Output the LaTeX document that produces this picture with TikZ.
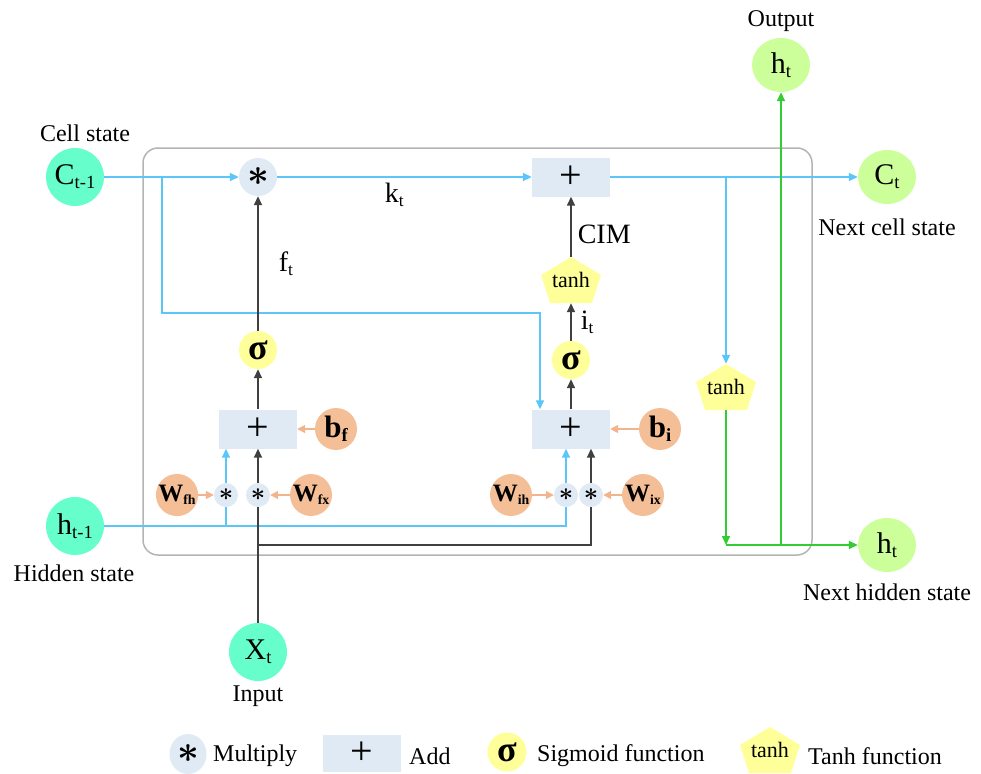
\documentclass[tikz,border=0pt]{standalone}
\usepackage{fontspec}
\setmainfont{Liberation Serif}
\usetikzlibrary{positioning,arrows.meta,shapes.geometric}
\definecolor{mint}{HTML}{66FFCC}
\definecolor{lgreen}{HTML}{CCFF99}
\definecolor{opbg}{HTML}{DFEAF4}
\definecolor{sigyel}{HTML}{FFFF99}
\definecolor{peach}{HTML}{F4BF96}
\definecolor{peachline}{HTML}{F2B48C}
\definecolor{cellblue}{HTML}{5CC6F8}
\definecolor{dgray}{HTML}{404040}
\definecolor{ggreen}{HTML}{33CC33}
\definecolor{boxgray}{HTML}{B4B4B4}
\newcommand{\fsz}[1]{\fontsize{#1}{#1}\selectfont}
\newcommand{\tsub}[2][0.62]{\raisebox{-0.3ex}{\scalebox{#1}{#2}}}
\newcommand{\mulsym}[1]{\scalebox{#1}{\boldmath$\ast$}}

\begin{document}
\begin{tikzpicture}[
  x=1pt, y=-1pt,
  state/.style={circle,fill=mint,minimum size=58pt,inner sep=0pt,font=\fsz{30}},
  outstate/.style={ellipse,fill=lgreen,minimum width=58pt,minimum height=54pt,inner sep=0pt,font=\fsz{30}},
  mult/.style={circle,fill=opbg,minimum size=38pt,inner sep=0pt},
  smult/.style={circle,fill=opbg,minimum size=24pt,inner sep=0pt},
  addbox/.style={rectangle,fill=opbg,minimum width=78pt,minimum height=39pt,inner sep=0pt,font=\fsz{40}},
  sig/.style={circle,fill=sigyel,minimum size=38pt,inner sep=0pt,font=\fsz{36}\bfseries},
  weight/.style={circle,fill=peach,minimum size=42pt,inner sep=0pt,font=\fsz{25}\bfseries},
  bias/.style={weight,font=\fsz{31}\bfseries},
  tanhgate/.style={rectangle,minimum width=60pt,minimum height=46pt,inner sep=0pt,font=\fsz{22},
    path picture={\fill[sigyel] ([yshift=23pt]path picture bounding box.center)
      -- ([xshift=30pt,yshift=5pt]path picture bounding box.center)
      -- ([xshift=21pt,yshift=-23pt]path picture bounding box.center)
      -- ([xshift=-21pt,yshift=-23pt]path picture bounding box.center)
      -- ([xshift=-30pt,yshift=5pt]path picture bounding box.center) -- cycle;}},
  lab/.style={font=\fsz{24},inner sep=0pt},
  sublab/.style={font=\fsz{28},inner sep=0pt},
  cline/.style={draw=cellblue,line width=1.6pt},
  carrow/.style={cline,-{Triangle[length=9pt,width=8pt]}},
  dline/.style={draw=dgray,line width=1.6pt},
  darrow/.style={dline,-{Triangle[length=9pt,width=8pt]}},
  warrow/.style={draw=peachline,line width=1.6pt,-{Triangle[length=8pt,width=8pt]}},
  garrow/.style={draw=ggreen,line width=1.6pt,-{Triangle[length=9pt,width=8pt]}}
  ]
  \useasboundingbox (0,0) rectangle (981,773);
  % cell frame
  \draw[draw=boxgray,line width=1.5pt,rounded corners=15pt] (143,148) rectangle (812,555);

  % inputs and outputs
  \node[state] (Cprev) at (75,177) {C\tsub{t-1}};
  \node[state] (hprev) at (75,526) {h\tsub{t-1}};
  \node[state] (xin) at (258,652) {X\tsub{t}};
  \node[outstate] (hout) at (781,65) {h\tsub{t}};
  \node[outstate] (Cnext) at (887,177) {C\tsub{t}};
  \node[outstate] (hnext) at (887,545) {h\tsub{t}};
  \node[lab] (Cprevlab) at (85,133) {Cell state};
  \node[lab] (hprevlab) at (74,573) {Hidden state};
  \node[lab] (xinlab) at (258,696) {Input};
  \node[lab] (houtlab) at (781,21) {Output};
  \node[lab] (Cnextlab) at (887,227) {Next cell state};
  \node[lab] (hnextlab) at (887,592) {Next hidden state};

  % forget gate
  \node[mult] (mulc) at (258,177) {\mulsym{3.8}};
  \node[sig] (sigf) at (258,350) {σ};
  \node[addbox] (addf) at (258,429) {+};
  \node[bias] (bf) at (336,429) {b\tsub[0.6]{f}};
  \node[weight] (Wfh) at (177,495) {W\tsub[0.55]{fh}};
  \node[smult] (mfh) at (226,495) {\mulsym{2.5}};
  \node[smult] (mfx) at (258,495) {\mulsym{2.5}};
  \node[weight] (Wfx) at (311,495) {W\tsub[0.55]{fx}};

  % input gate
  \node[addbox] (addc) at (571,177) {+};
  \node[tanhgate] (tanhi) at (571,280) {tanh};
  \node[sig] (sigi) at (571,360) {σ};
  \node[addbox] (addi) at (571,429) {+};
  \node[bias] (bi) at (660,429) {b\tsub[0.6]{i}};
  \node[weight] (Wih) at (511,495) {W\tsub[0.55]{ih}};
  \node[smult] (mih) at (566,495) {\mulsym{2.5}};
  \node[smult] (mix) at (591,495) {\mulsym{2.5}};
  \node[weight] (Wix) at (643,495) {W\tsub[0.55]{ix}};

  % output
  \node[tanhgate] (tanho) at (726,387) {tanh};

  \coordinate (splitc) at (162,177);
  \coordinate (turnc) at (540,313);
  \coordinate (splito) at (726,177);
  \coordinate (xjoin) at (258,545);
  \coordinate (hjoin) at (726,545);

  \draw[carrow] (Cprev) -- (mulc);
  \draw[carrow] (mulc) -- node[sublab,below=5pt,pos=0.46] (klab) {k\tsub{t}} (addc);
  \draw[carrow] (addc) -- (Cnext);
  \draw[carrow] (splitc) |- (turnc) -- (turnc |- addi.north);
  \draw[carrow] (splito) -- (tanho);

  \draw[darrow] (sigf) -- node[sublab,right=20pt] (flab) {f\tsub{t}} (mulc);
  \draw[darrow] (addf) -- (sigf);
  \draw[warrow] (bf) -- (addf);
  \draw[warrow] (Wfh) -- (mfh);
  \draw[warrow] (Wfx) -- (mfx);
  \draw[carrow] (mfh) -- (mfh |- addf.south);
  \draw[darrow] (mfx) -- (addf);
  \draw[cline] (hprev) -- (hprev -| mih) -- (mih);
  \draw[cline] (hprev -| mfh) -- (mfh);
  \draw[dline] (xin) -- (mfx);
  \draw[dline] (xjoin) -| (mix);

  \draw[carrow] (mih) -- (mih |- addi.south);
  \draw[darrow] (mix) -- (mix |- addi.south);
  \draw[warrow] (Wih) -- (mih);
  \draw[warrow] (Wix) -- (mix);
  \draw[warrow] (bi) -- (addi);
  \draw[darrow] (addi) -- (sigi);
  \draw[darrow] (sigi) -- node[sublab,right=9pt] (ilab) {i\tsub{t}} (tanhi);
  \draw[darrow] (tanhi) -- node[sublab,right=6pt,pos=0.37] (cimlab) {CIM} (addc);

  \draw[garrow] (tanho) -- (hjoin);
  \draw[garrow] (hjoin) -- (hnext);
  \draw[garrow] (hout |- hnext) -- (hout);

  % legend
  \node[mult,minimum width=37pt,minimum height=40pt,ellipse] (legmul) at (188,754) {\mulsym{3.8}};
  \node[lab,anchor=west] (legmullab) at (213,756) {Multiply};
  \node[addbox,minimum height=37pt] (legadd) at (362,753) {+};
  \node[lab,anchor=west] (legaddlab) at (409,756) {Add};
  \node[sig,minimum size=39pt] (legsig) at (507,752) {σ};
  \node[lab,anchor=west] (legsiglab) at (537,756) {Sigmoid function};
  \node[tanhgate] (legtanh) at (770,750) {tanh};
  \node[lab,anchor=west] (legtanhlab) at (808,756) {Tanh function};
\end{tikzpicture}
\end{document}
